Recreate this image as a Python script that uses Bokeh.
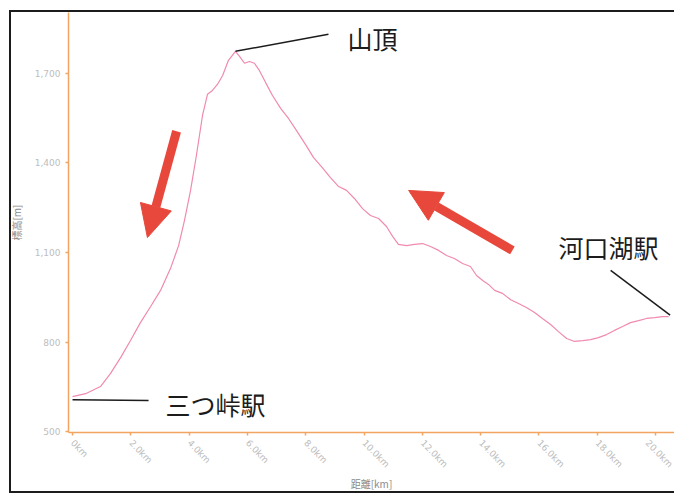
from bokeh.plotting import figure
from bokeh.models import FixedTicker, Range1d, Arrow, NormalHead, Label
from bokeh.embed import file_html
from bokeh.resources import INLINE

# ---- data ----
dist_km = [0.00, 0.45, 0.96, 1.30, 1.65, 1.99, 2.33, 2.68, 3.02, 3.36, 3.64, 3.84, 4.05,
           4.25, 4.46, 4.63, 4.80, 4.97, 5.15, 5.35, 5.59, 5.73, 5.90, 6.07, 6.24, 6.41,
           6.62, 6.86, 7.14, 7.41, 7.68, 7.99, 8.27, 8.54, 8.85, 9.13, 9.40, 9.67, 9.95,
           10.22, 10.50, 10.77, 10.98, 11.18, 11.46, 11.73, 12.01, 12.28, 12.56, 12.83,
           13.10, 13.38, 13.65, 13.86, 14.07, 14.27, 14.48, 14.75, 15.03, 15.30, 15.57,
           15.85, 16.12, 16.40, 16.67, 16.95, 17.22, 17.50, 17.77, 18.04, 18.32, 18.59,
           18.87, 19.14, 19.42, 19.69, 19.97, 20.24, 20.45]
elev_m = [617, 627, 651, 694, 748, 805, 865, 919, 973, 1046, 1123, 1207, 1308,
          1425, 1559, 1630, 1643, 1663, 1693, 1744, 1774, 1757, 1734, 1740, 1734, 1710,
          1670, 1626, 1583, 1549, 1509, 1462, 1418, 1388, 1351, 1321, 1308, 1281, 1247,
          1224, 1214, 1187, 1154, 1127, 1123, 1127, 1130, 1120, 1107, 1090,
          1080, 1063, 1053, 1023, 1006, 993, 973, 963, 942, 929, 916,
          899, 879, 859, 835, 812, 802, 805, 808, 815, 825, 839,
          852, 865, 872, 879, 882, 885, 885]

x_ticks = [0, 2, 4, 6, 8, 10, 12, 14, 16, 18, 20]
x_tick_labels = ["0km", "2.0km", "4.0km", "6.0km", "8.0km", "10.0km", "12.0km",
                 "14.0km", "16.0km", "18.0km", "20.0km"]
y_ticks = [500, 800, 1100, 1400, 1700]
y_tick_labels = ["500", "800", "1,100", "1,400", "1,700"]

x_title = "距離[km]"
y_title = "標高[m]"
summit_name = "山頂"
start_name = "三つ峠駅"
end_name = "河口湖駅"

JP = "Noto Sans CJK JP"
ORANGE = "#f2a561"
PINK = "#f08ab0"
RED = "#e8483b"

p = figure(width=674, height=501, output_backend="svg", toolbar_location=None,
           x_range=Range1d(-0.137, 20.65), y_range=Range1d(497, 1904),
           min_border_left=68, min_border_right=0, min_border_top=12, min_border_bottom=69)
p.border_fill_color = None
p.background_fill_color = None
p.outline_line_color = None
p.grid.visible = False
p.styles = {"box-shadow": ("inset 9px 0 0 0 #ffffff, inset 0 10px 0 0 #ffffff, "
                           "inset 0 -8px 0 0 #ffffff, "
                           "inset 11px 0 0 0 #1c1c1c, inset 0 12px 0 0 #1c1c1c, "
                           "inset 0 -10px 0 0 #1c1c1c")}

for ax in (p.xaxis, p.yaxis):
    ax.axis_line_color = ORANGE
    ax.axis_line_width = 1.5
    ax.major_tick_line_color = ORANGE
    ax.major_tick_line_width = 1.5
    ax.major_tick_out = 3
    ax.major_tick_in = 0
    ax.minor_tick_line_color = None
    ax.major_label_text_color = "#bdbdbd"
    ax.major_label_text_font = "DejaVu Sans"
    ax.major_label_text_font_size = "9px"
    ax.axis_label_text_font = JP
    ax.axis_label_text_font_size = "10px"
    ax.axis_label_text_color = "#8a8a8a"
    ax.axis_label_text_font_style = "normal"

p.xaxis.ticker = FixedTicker(ticks=x_ticks)
p.xaxis.major_label_overrides = dict(zip(x_ticks, x_tick_labels))
p.xaxis.major_label_orientation = -0.8
p.xaxis.major_label_standoff = 6
p.xaxis.axis_label = x_title
p.xaxis.axis_label_standoff = 0

p.yaxis.ticker = FixedTicker(ticks=y_ticks)
p.yaxis.major_label_overrides = dict(zip(y_ticks, y_tick_labels))
p.yaxis.major_label_standoff = 5
p.yaxis.axis_label = y_title
p.yaxis.axis_label_standoff = 8

# elevation profile
p.line(dist_km, elev_m, line_color=PINK, line_width=1.2)

# leader lines (anchored on the profile's points)
i_top = elev_m.index(max(elev_m))
p.segment(x0=[dist_km[i_top], dist_km[0], 18.46],
          y0=[elev_m[i_top], elev_m[0] - 10, 1040],
          x1=[8.78, 2.61, dist_km[-1] + 0.05],
          y1=[1831, 604, elev_m[-1] + 5],
          line_color="#1c1c1c", line_width=1.5)

for txt, xx, yy in [(summit_name, 9.43, 1817), (start_name, 3.19, 594), (end_name, 16.67, 1120)]:
    p.add_layout(Label(x=xx, y=yy, text=txt, text_font=JP, text_font_size="25px",
                       text_color="#1c1c1c", text_baseline="middle", text_align="left"))

# red direction arrows
for xs, ys, xe, ye in [(3.57, 1506, 2.57, 1150), (15.09, 1107, 11.53, 1308)]:
    p.add_layout(Arrow(end=NormalHead(size=32, fill_color=RED, line_color=RED),
                       x_start=xs, y_start=ys, x_end=xe, y_end=ye,
                       line_color=RED, line_width=9))

open("out.html", "w").write(file_html(p, INLINE))
